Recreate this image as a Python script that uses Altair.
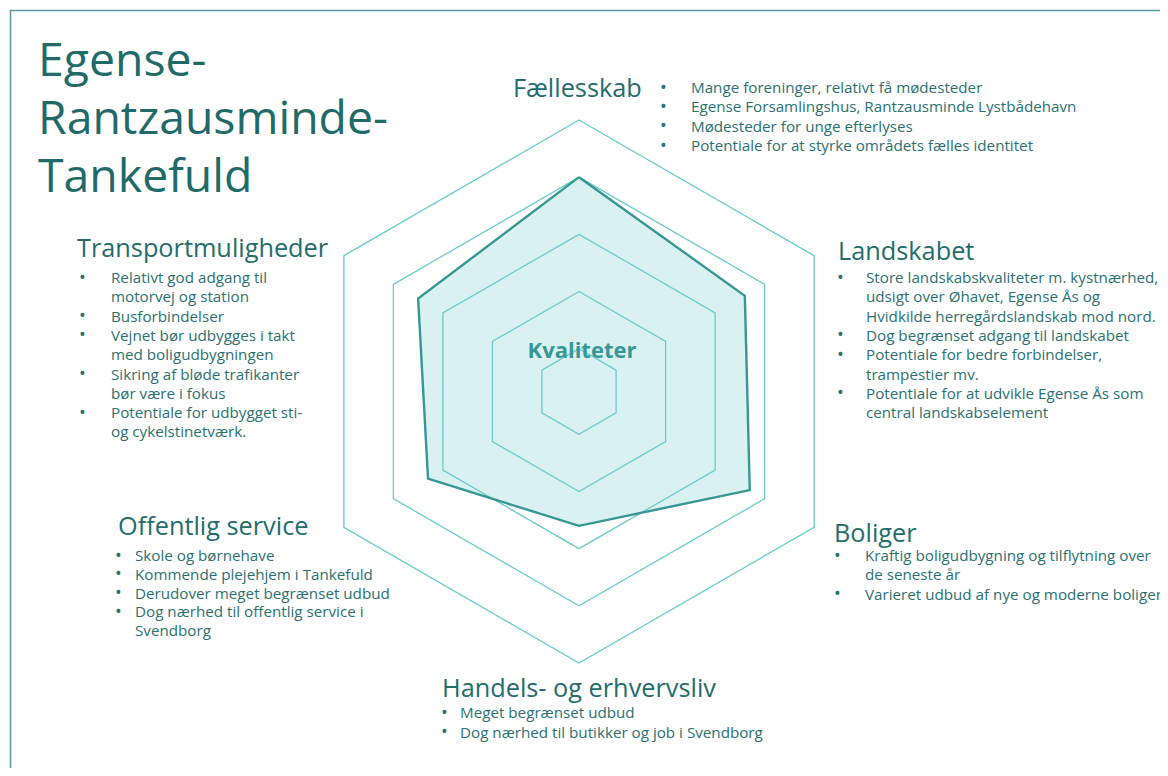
import altair as alt
import pandas as pd

# ---------------- data ----------------
TITLE_LINES = ["Egense-", "Rantzausminde-", "Tankefuld"]
AXES = ["Fællesskab", "Landskabet", "Boliger", "Handels- og erhvervsliv",
        "Offentlig service", "Transportmuligheder"]
SCORES = [4.0, 3.6, 3.7, 2.6, 3.3, 3.5]
LEVELS = [1, 2, 3, 4, 5]
SCALE_MIN, SCALE_MAX = 0.25, 5.0
CENTER_LABEL = "Kvaliteter"

BULLETS = {
    "Fællesskab": [
        ["Mange foreninger, relativt få mødesteder"],
        ["Egense Forsamlingshus, Rantzausminde Lystbådehavn"],
        ["Mødesteder for unge efterlyses"],
        ["Potentiale for at styrke områdets fælles identitet"],
    ],
    "Landskabet": [
        ["Store landskabskvaliteter m. kystnærhed,", "udsigt over Øhavet, Egense Ås og",
         "Hvidkilde herregårdslandskab mod nord."],
        ["Dog begrænset adgang til landskabet"],
        ["Potentiale for bedre forbindelser,", "trampestier mv."],
        ["Potentiale for at udvikle Egense Ås som", "central landskabselement"],
    ],
    "Boliger": [
        ["Kraftig boligudbygning og tilflytning over", "de seneste år"],
        ["Varieret udbud af nye og moderne boliger"],
    ],
    "Handels- og erhvervsliv": [
        ["Meget begrænset udbud"],
        ["Dog nærhed til butikker og job i Svendborg"],
    ],
    "Offentlig service": [
        ["Skole og børnehave"],
        ["Kommende plejehjem i Tankefuld"],
        ["Derudover meget begrænset udbud"],
        ["Dog nærhed til offentlig service i", "Svendborg"],
    ],
    "Transportmuligheder": [
        ["Relativt god adgang til", "motorvej og station"],
        ["Busforbindelser"],
        ["Vejnet bør udbygges i takt", "med boligudbygningen"],
        ["Sikring af bløde trafikanter", "bør være i fokus"],
        ["Potentiale for udbygget sti-", "og cykelstinetværk."],
    ],
}

# ---------------- layout (pixels inside the chart) ----------------
W, H = 1152, 760
OFF = 8  # page margin
R_PX = 271.5
CX, CY = 579 - OFF, 391.5 - OFF
XDOM = [-CX / R_PX, (W - CX) / R_PX]
YDOM = [-(H - CY) / R_PX, CY / R_PX]

FONT = "Open Sans"
C_TITLE = "#216a6a"
C_HEAD = "#236d6d"
C_TEXT = "#2a7272"
C_GRID = "#6acccc"
C_LINE = "#379797"
C_FILL = "#daf1f1"
C_FRAME = "#5e9ea0"

FS_TITLE, FS_HEAD, FS_BODY, FS_CENTER, FS_BULLET = 46.4, 25.3, 15.2, 22, 18

# block layout: heading x, heading baseline, bullet x, text x, first baseline, line height
BLOCK_POS = {
    "Fællesskab": (513, 97, 660, 691, 93, 19.4),
    "Landskabet": (838, 260, 837, 866, 283, 19.3),
    "Boliger": (834, 542, 834, 865, 561, 19.3),
    "Handels- og erhvervsliv": (442, 697, 441, 460, 718, 19.5),
    "Offentlig service": (118, 535, 115, 135, 561, 18.8),
    "Transportmuligheder": (77, 257, 79, 111, 283, 19.3),
}

# ---------------- tables ----------------
n = len(AXES)
grid_rows = [{"level": lv, "k": k} for lv in LEVELS for k in range(n + 1)]
grid_df = pd.DataFrame(grid_rows)
poly_df = pd.DataFrame({"k": list(range(n + 1)),
                        "axis": [AXES[k % n] for k in range(n + 1)],
                        "score": [SCORES[k % n] for k in range(n + 1)]})

xs = alt.Scale(domain=XDOM, range=[0, W], nice=False, zero=False)
ys = alt.Scale(domain=YDOM, range=[H, 0], nice=False, zero=False)


def polar(df_chart, field):
    return df_chart.transform_calculate(
        r=f"(datum.{field} - {SCALE_MIN}) / ({SCALE_MAX} - {SCALE_MIN})",
        ang=f"datum.k * 2 * PI / {n}",
    ).transform_calculate(
        px="datum.r * sin(datum.ang)",
        py="datum.r * cos(datum.ang)",
    )


def xy(extra=None):
    enc = dict(
        x=alt.X("px:Q", scale=xs, axis=None),
        y=alt.Y("py:Q", scale=ys, axis=None),
        order=alt.Order("k:Q"),
    )
    if extra:
        enc.update(extra)
    return enc


frame = alt.Chart(alt.Data(values=[{}])).mark_rect(
    fill="transparent", stroke=C_FRAME, strokeWidth=1.6
).encode(x=alt.value(10.5 - OFF), y=alt.value(10.5 - OFF),
         x2=alt.value(W + 40), y2=alt.value(H + 40))

poly_fill = polar(alt.Chart(poly_df), "score").mark_line(
    fill=C_FILL, fillOpacity=1, stroke=C_FILL, strokeWidth=0
).encode(**xy())

grid = polar(alt.Chart(grid_df), "level").mark_line(
    stroke=C_GRID, strokeWidth=1.3
).encode(**xy({"detail": "level:N"}))

poly_line = polar(alt.Chart(poly_df), "score").mark_line(
    stroke=C_LINE, strokeWidth=2.4, strokeJoin="miter"
).encode(**xy())

center = alt.Chart(alt.Data(values=[{"t": CENTER_LABEL}])).mark_text(
    font=FONT, fontSize=FS_CENTER, fontWeight="bold", color=C_LINE,
    align="center", baseline="alphabetic"
).encode(text="t:N", x=alt.value(582 - OFF), y=alt.value(358 - OFF))

title = alt.Chart(alt.Data(values=[{"t": "\n".join(TITLE_LINES)}])).mark_text(
    font=FONT, fontSize=FS_TITLE, color=C_TITLE, align="left", baseline="alphabetic",
    lineBreak="\n", lineHeight=58
).encode(text="t:N", x=alt.value(38 - OFF), y=alt.value(76 - OFF))

layers = [frame, poly_fill, grid, poly_line, center, title]


def text_mark(txt, x, y, size, color, lh=None):
    kw = dict(font=FONT, fontSize=size, color=color, align="left", baseline="alphabetic")
    if lh is not None:
        kw.update(lineBreak="\n", lineHeight=lh)
    return alt.Chart(alt.Data(values=[{"t": txt}])).mark_text(**kw).encode(
        text="t:N", x=alt.value(x - OFF), y=alt.value(y - OFF))


for name in AXES:
    hx, hy, bx, tx, fy, lh = BLOCK_POS[name]
    items = BULLETS[name]
    layers.append(text_mark(name, hx, hy, FS_HEAD, C_HEAD))
    body_lines = []
    for item in items:
        layers.append(text_mark("•", bx, fy + 0.5 + len(body_lines) * lh, FS_BULLET, C_TEXT))
        body_lines.extend(item)
    layers.append(text_mark("\n".join(body_lines), tx, fy, FS_BODY, C_TEXT, lh))

chart = alt.layer(*layers).properties(
    width=W, height=H, padding=0, autosize=alt.AutoSizeParams(type="none"),
    background="white"
).configure_view(stroke=None)

chart.save("out.html", embed_options={"renderer": "svg", "actions": False})
